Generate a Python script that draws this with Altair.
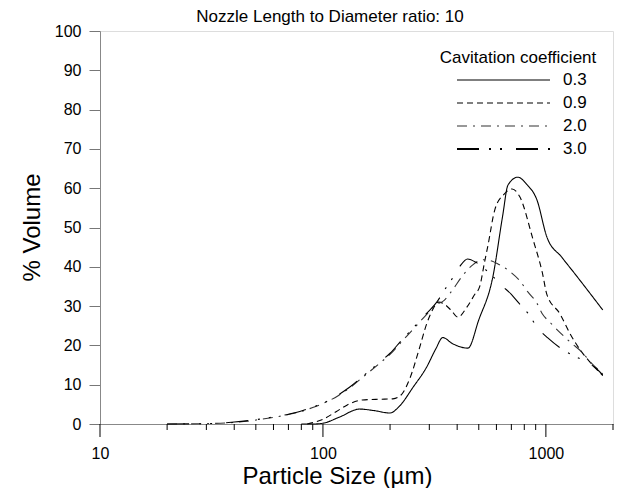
import altair as alt
import pandas as pd

# ---------------- data ----------------
series_labels = ["0.3", "0.9", "2.0", "3.0"]

x_03 = [80, 90, 100, 119, 146, 170, 200, 220, 254, 292, 320, 345, 380, 447, 500, 578, 640, 676, 748, 820, 912, 1010, 1180, 1350, 1800]
y_03 = [0, 0, 0.2, 1.8, 3.8, 3.4, 2.8, 4.5, 9.4, 14.5, 19, 22, 20.5, 19.3, 26.5, 37.4, 53, 60.8, 62.8, 61, 57, 47.6, 42.4, 38.2, 29]

x_09 = [85, 100, 115, 128, 150, 180, 206, 225, 245, 270, 292, 310, 330, 350, 375, 403, 443, 480, 505, 530, 550, 590, 650, 705, 764, 875, 964, 1010, 1157, 1283, 1419, 1574, 1800]
y_09 = [0, 1.2, 3.2, 4.8, 6.1, 6.3, 6.4, 7.5, 11.5, 19, 25.5, 29, 31, 30.5, 29, 27.2, 29.8, 33, 35, 41, 45.5, 54.5, 58.5, 59.8, 57.8, 47, 38.5, 33, 28, 23, 19, 15.8, 12.3]

x_20 = [20, 30, 40, 50, 60, 70, 80, 90, 100, 117, 132, 150, 180, 200, 226, 250, 290, 324, 345, 380, 420, 470, 520, 560, 620, 700, 760, 830, 910, 960, 1050, 1190, 1300, 1450, 1600, 1800]
y_20 = [0, 0.1, 0.4, 1.0, 1.7, 2.4, 3.2, 4.2, 5.2, 7.2, 9.2, 11.8, 15.5, 17.7, 21, 23.7, 27.7, 30.5, 31.2, 34, 37.5, 40.5, 41.8, 41.6, 40.5, 38.5, 36.6, 33.6, 30.8, 28.2, 25.7, 22.6, 20.6, 18.3, 15.5, 12.8]

x_30 = [20, 30, 40, 50, 60, 70, 80, 90, 100, 117, 132, 150, 180, 200, 226, 250, 290, 324, 350, 380, 410, 445, 490, 560, 640, 700, 750, 830, 920, 1020, 1240, 1400, 1650, 1800]
y_30 = [0, 0.1, 0.5, 1.1, 1.8, 2.5, 3.3, 4.3, 5.3, 7.4, 9.4, 12, 15.8, 18, 21.4, 24, 28, 31, 34, 37, 40, 42, 41, 38.3, 35, 33, 31, 28.2, 24.4, 21.9, 18.3, 16.8, 14.5, 12.5]

x_major_ticks = [10, 100, 1000]
x_minor_ticks = [20, 30, 40, 50, 60, 70, 80, 90, 200, 300, 400, 500, 600, 700, 800, 900, 2000]
y_ticks = [0, 10, 20, 30, 40, 50, 60, 70, 80, 90, 100]

frames = []
for lab, xs, ys in zip(series_labels, [x_03, x_09, x_20, x_30], [y_03, y_09, y_20, y_30]):
    frames.append(pd.DataFrame({"size": xs, "vol": ys, "cc": lab}))
df = pd.concat(frames, ignore_index=True)
major_df = pd.DataFrame({"size": x_major_ticks})
minor_df = pd.DataFrame({"size": x_minor_ticks})

# ---------------- styles ----------------
FONT = "Liberation Sans"
dashes = [[1, 0], [6, 4], [10, 6, 2, 6], [22, 10, 2, 9, 2, 14]]
widths = [1.1, 1.1, 1.2, 1.9]
colors = ["black", "black", "#333333", "black"]
PLOT_W, PLOT_H = 513, 393

xscale = alt.Scale(type="log", domain=[10, 2000], nice=False)
yscale = alt.Scale(domain=[0, 100], nice=False)

lines = alt.Chart(df).mark_line(interpolate="monotone").encode(
    x=alt.X(
        "size:Q",
        scale=xscale,
        axis=alt.Axis(
            values=x_major_ticks,
            format="d",
            ticks=False,
            labelPadding=21,
            labelFontSize=16,
            labelFlush=False,
            labelOverlap=False,
            title="Particle Size (\u00b5m)",
            titleFontSize=24,
            titleFontWeight="normal",
            titleX=237,
            titleY=52,
            titleBaseline="middle",
            grid=False,
        ),
    ),
    y=alt.Y(
        "vol:Q",
        scale=yscale,
        axis=alt.Axis(
            values=y_ticks,
            tickSize=11,
            tickColor="#777777",
            labelPadding=8,
            labelFontSize=16,
            title="% Volume",
            titleFontSize=24,
            titleFontWeight="normal",
            titleX=-68,
            titleY=196,
            titleAngle=-90,
            titleBaseline="middle",
            titleAlign="center",
            grid=False,
        ),
    ),
    strokeDash=alt.StrokeDash("cc:N", scale=alt.Scale(domain=series_labels, range=dashes), legend=None),
    strokeWidth=alt.StrokeWidth("cc:N", scale=alt.Scale(domain=series_labels, range=widths), legend=None),
    color=alt.Color("cc:N", scale=alt.Scale(domain=series_labels, range=colors), legend=None),
)

# x-axis tick marks (major and minor) drawn at the tick values
major_ticks = alt.Chart(major_df).mark_rule(color="black", strokeWidth=1).encode(
    x=alt.X("size:Q", scale=xscale),
    y=alt.value(PLOT_H), y2=alt.value(PLOT_H + 13),
)
minor_ticks = alt.Chart(minor_df).mark_rule(color="black", strokeWidth=1).encode(
    x=alt.X("size:Q", scale=xscale),
    y=alt.value(PLOT_H), y2=alt.value(PLOT_H + 6),
)

# ---------------- hand-drawn legend and title (pixel positions relative to plot area) ----------------
one = pd.DataFrame({"k": [0]})
leg_x0, leg_x1, leg_tx = 357, 450, 463
leg_rows = [49, 72, 95, 118]
layers = [lines, major_ticks, minor_ticks]
layers.append(
    alt.Chart(one).mark_text(text="Nozzle Length to Diameter ratio: 10", align="center", baseline="middle",
                             fontSize=17, font=FONT, color="black")
    .encode(x=alt.value(230), y=alt.value(-14))
)
layers.append(
    alt.Chart(one).mark_text(text="Cavitation coefficient", align="center", baseline="middle",
                             fontSize=17, font=FONT, color="black")
    .encode(x=alt.value(418), y=alt.value(27))
)
for lab, dsh, w, c, ry in zip(series_labels, dashes, widths, colors, leg_rows):
    layers.append(
        alt.Chart(one).mark_rule(strokeDash=dsh, strokeWidth=w, color=c)
        .encode(x=alt.value(leg_x0), x2=alt.value(leg_x1), y=alt.value(ry))
    )
    layers.append(
        alt.Chart(one).mark_text(text=lab, align="left", baseline="middle", fontSize=17,
                                 font=FONT, color="black")
        .encode(x=alt.value(leg_tx), y=alt.value(ry))
    )

chart = alt.layer(*layers).properties(
    width=PLOT_W,
    height=PLOT_H,
    padding={"left": 92, "top": 23, "right": 18, "bottom": 64},
    autosize=alt.AutoSizeParams(type="none"),
).configure_view(stroke=None).configure_axis(
    labelFont=FONT, titleFont=FONT, labelColor="black", titleColor="black",
    domainColor="black", tickColor="black", domainWidth=1, tickWidth=1,
).configure(background="white")

chart.save("out.html", embed_options={"renderer": "svg", "actions": False})
